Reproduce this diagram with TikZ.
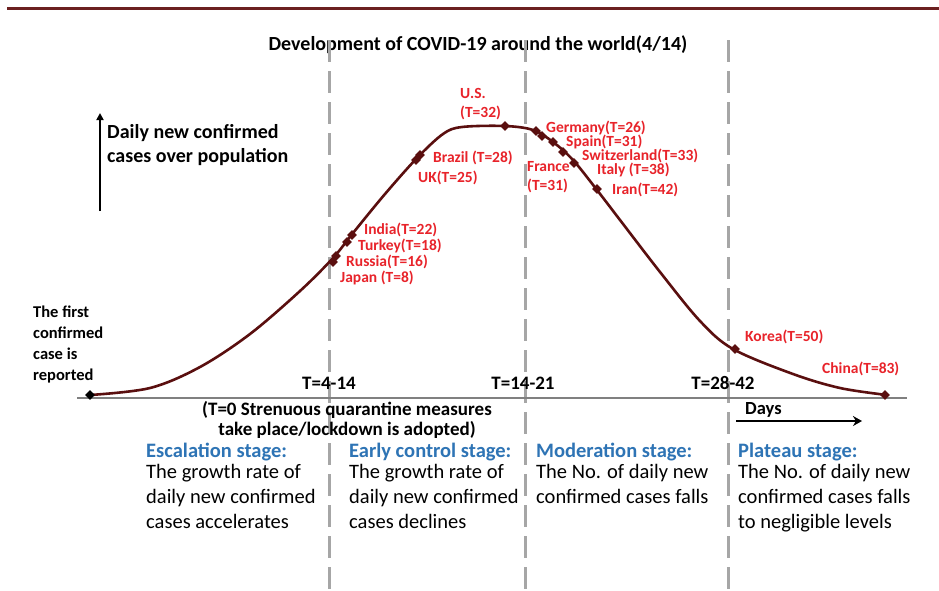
\documentclass[tikz,border=0pt]{standalone}
\usepackage{fontspec}
\setmainfont{Carlito}
\usetikzlibrary{shapes.geometric,arrows.meta}
\definecolor{redlbl}{HTML}{E8232A}
\definecolor{maroon}{HTML}{5A0F0F}
\definecolor{topline}{HTML}{6B2020}
\definecolor{stageblue}{HTML}{2E74B5}
\definecolor{dashgray}{HTML}{A6A6A6}
\definecolor{axisgray}{HTML}{808080}
\tikzset{
  lbl/.style={text=redlbl,font=\fontsize{15.5}{17}\selectfont\bfseries,inner sep=0pt,anchor=west},
  blk/.style={text=black,font=\fontsize{19}{20}\selectfont\bfseries,inner sep=0pt},
  stagehead/.style={text=stageblue,font=\fontsize{20.5}{24}\selectfont\bfseries,inner sep=0pt,anchor=west},
  body/.style={text=black,font=\fontsize{20.5}{25}\selectfont,inner sep=0pt,anchor=north west,align=left},
  mk/.style={diamond,fill=maroon,inner sep=0pt,minimum size=10pt},
  vdash/.style={dashgray,line width=3pt,dash pattern=on 22pt off 9pt},
}
\begin{document}
\begin{tikzpicture}[x=1pt,y=-1pt]
\useasboundingbox (0,0) rectangle (939,590);
\fill[white] (0,0) rectangle (939,590);
% top rule
\draw[topline,line width=3pt] (7,8) -- (939,8);
% title
\node[font=\fontsize{20}{22}\selectfont\bfseries,inner sep=0pt] (title) at (478,45) {Development of COVID-19 around the world(4/14)};
% dashed stage separators
\coordinate (d1t) at (329,40); \coordinate (d1b) at (329,590);
\coordinate (d2t) at (525,40); \coordinate (d2b) at (525,590);
\coordinate (d3t) at (728,40); \coordinate (d3b) at (728,590);
\draw[vdash] (d1t) -- (d1b);
\draw[vdash] (d2t) -- (d2b);
\draw[vdash] (d3t) -- (d3b);
% x axis
\coordinate (ax0) at (77,398); \coordinate (ax1) at (907,398);
\draw[axisgray,line width=2pt] (ax0) -- (ax1);
% y axis arrow
\coordinate (ya0) at (100,211); \coordinate (ya1) at (100,113);
\draw[line width=2pt,-{Triangle[length=7pt,width=7pt]}] (ya0) -- (ya1);
\node[blk,font=\fontsize{20}{24}\selectfont\bfseries,anchor=west,align=left] (ylab) at (107,145) {Daily new confirmed\\cases over population};
% curve
\draw[maroon,line width=2.6pt] plot[smooth,tension=0.55] coordinates {
 (90,395) (150,388) (200,367) (250,334) (300,291) (333,258) (353,233)
 (385,194) (417,158) (443,134) (462,127) (505,126) (533,130) (553,142)
 (573,160) (597,190) (620,220) (660,272) (700,321) (733,349) (793,374) (840,388) (887,395)};
% markers
\node[mk,fill=black] (firstpt) at (90,395) {};
\node[mk] (mJapan) at (333,262) {};
\node[mk] (mRussia) at (336,256) {};
\node[mk] (mTurkey) at (347,242) {};
\node[mk] (mIndia) at (352,235) {};
\node[mk] (mUK) at (416,160) {};
\node[mk] (mBrazil) at (420,155) {};
\node[mk] (mUS) at (505,126) {};
\node[mk] (mGermany) at (536,131) {};
\node[mk] (mFrance) at (542,136) {};
\node[mk] (mSpain) at (553,142) {};
\node[mk] (mSwiss) at (563,152) {};
\node[mk] (mItaly) at (574,163) {};
\node[mk] (mIran) at (597,189) {};
\node[mk] (mKorea) at (735,349) {};
\node[mk] (mChina) at (885,395) {};
% red labels
\node[lbl] (lUS) at (460,93) {U.S.};
\node[lbl] (lUS2) at (460,113) {(T=32)};
\node[lbl] (lBrazil) at (433,158) {Brazil (T=28)};
\node[lbl] (lUK) at (418,178) {UK(T=25)};
\node[lbl] (lIndia) at (364,230) {India(T=22)};
\node[lbl] (lTurkey) at (358,246) {Turkey(T=18)};
\node[lbl] (lRussia) at (346,262) {Russia(T=16)};
\node[lbl] (lJapan) at (340,278) {Japan (T=8)};
\node[lbl] (lGermany) at (546,128) {Germany(T=26)};
\node[lbl] (lSpain) at (566,142) {Spain(T=31)};
\node[lbl] (lSwiss) at (582,156) {Switzerland(T=33)};
\node[lbl] (lItaly) at (597,170) {Italy (T=38)};
\node[lbl] (lIran) at (612,190) {Iran(T=42)};
\node[lbl] (lFrance) at (527,167) {France};
\node[lbl] (lFrance2) at (527,186) {(T=31)};
\node[lbl] (lKorea) at (745,337) {Korea(T=50)};
\node[lbl] (lChina) at (822,369) {China(T=83)};
% black labels
\node[blk,font=\fontsize{16.5}{21}\selectfont\bfseries,anchor=west,align=left] (first) at (33,344) {The first\\confirmed\\case is\\reported};
\node[blk] (t1) at (329,383) {T=4-14};
\node[blk] (t2) at (523,383) {T=14-21};
\node[blk] (t3) at (723,383) {T=28-42};
\node[blk,align=center] (t0) at (347,420) {(T=0 Strenuous quarantine measures\\take place/lockdown is adopted)};
\node[blk,font=\fontsize{18.5}{20}\selectfont\bfseries,anchor=west] (days) at (745,410) {Days};
\coordinate (da0) at (736,421); \coordinate (da1) at (862,421);
\draw[line width=2.2pt,-{Stealth[length=9pt,width=10pt]}] (da0) -- (da1);
% stages
\node[stagehead] (s1) at (146,452) {Escalation stage:};
\node[stagehead] (s2) at (349,452) {Early control stage:};
\node[stagehead] (s3) at (536,452) {Moderation stage:};
\node[stagehead] (s4) at (738,452) {Plateau stage:};
\node[body] (b1) at (146,464) {The growth rate of\\daily new confirmed\\cases accelerates};
\node[body] (b2) at (349,464) {The growth rate of\\daily new confirmed\\cases declines};
\node[body] (b3) at (536,464) {The No. of daily new\\confirmed cases falls};
\node[body] (b4) at (738,464) {The No. of daily new\\confirmed cases falls\\to negligible levels};
\end{tikzpicture}
\end{document}
